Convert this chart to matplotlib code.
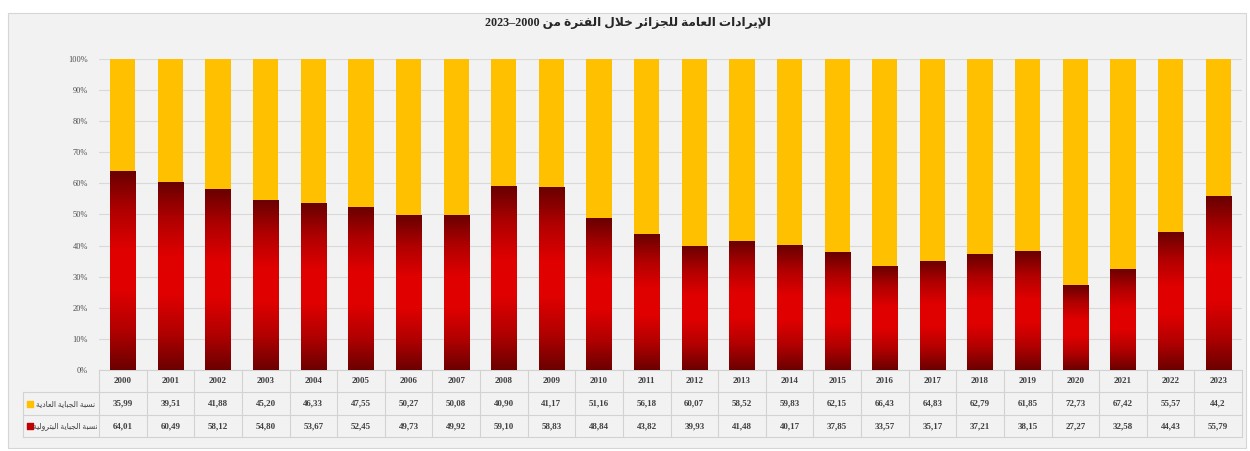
import re
import numpy as np
import matplotlib
matplotlib.use("Agg")
import matplotlib.pyplot as plt
from matplotlib.colors import LinearSegmentedColormap
from matplotlib.patches import Rectangle

# Share of oil tax vs. ordinary tax in Algeria's public revenue, 2000-2023 (%)
years = [str(y) for y in range(2000, 2024)]
oil_txt = ["64,01", "60,49", "58,12", "54,80", "53,67", "52,45", "49,73", "49,92",
           "59,10", "58,83", "48,84", "43,82", "39,93", "41,48", "40,17", "37,85",
           "33,57", "35,17", "37,21", "38,15", "27,27", "32,58", "44,43", "55,79"]
ordinary_txt = ["35,99", "39,51", "41,88", "45,20", "46,33", "47,55", "50,27", "50,08",
                "40,90", "41,17", "51,16", "56,18", "60,07", "58,52", "59,83", "62,15",
                "66,43", "64,83", "62,79", "61,85", "72,73", "67,42", "55,57", "44,2"]
oil_share = [float(s.replace(",", ".")) for s in oil_txt]
ordinary_share = [float(s.replace(",", ".")) for s in ordinary_txt]

title = "الإيرادات العامة للجزائر خلال الفترة من 2000–2023"
ordinary_label = "نسبة الجباية العادية"
oil_label = "نسبة الجباية البترولية"

# --- minimal Arabic shaping (matplotlib has no complex text layout) ---
FORMS = {
    "ا": (0xFE8D, 0xFE8E), "إ": (0xFE87, 0xFE88), "ة": (0xFE93, 0xFE94),
    "د": (0xFEA9, 0xFEAA), "ر": (0xFEAD, 0xFEAE), "ز": (0xFEAF, 0xFEB0),
    "و": (0xFEED, 0xFEEE),
    "ب": (0xFE8F, 0xFE90, 0xFE91, 0xFE92), "ت": (0xFE95, 0xFE96, 0xFE97, 0xFE98),
    "ج": (0xFE9D, 0xFE9E, 0xFE9F, 0xFEA0), "خ": (0xFEA5, 0xFEA6, 0xFEA7, 0xFEA8),
    "س": (0xFEB1, 0xFEB2, 0xFEB3, 0xFEB4), "ع": (0xFEC9, 0xFECA, 0xFECB, 0xFECC),
    "ف": (0xFED1, 0xFED2, 0xFED3, 0xFED4), "ل": (0xFEDD, 0xFEDE, 0xFEDF, 0xFEE0),
    "م": (0xFEE1, 0xFEE2, 0xFEE3, 0xFEE4), "ن": (0xFEE5, 0xFEE6, 0xFEE7, 0xFEE8),
    "ي": (0xFEF1, 0xFEF2, 0xFEF3, 0xFEF4), "ئ": (0xFE89, 0xFE8A, 0xFE8B, 0xFE8C),
}
LAM_ALEF = {"ا": (0xFEFB, 0xFEFC), "إ": (0xFEF9, 0xFEFA)}


def is_arabic(ch):
    return 0x0600 <= ord(ch) <= 0x06FF or 0xFE70 <= ord(ch) <= 0xFEFF


def rtl(text):
    out = []
    i = 0
    while i < len(text):
        c = text[i]
        prev_joins = i > 0 and len(FORMS.get(text[i - 1], ())) == 4
        if c == "ل" and i + 1 < len(text) and text[i + 1] in LAM_ALEF:
            iso, fin = LAM_ALEF[text[i + 1]]
            out.append(chr(fin if prev_joins else iso))
            i += 2
            continue
        if c in FORMS:
            forms = FORMS[c]
            next_joins = len(forms) == 4 and i + 1 < len(text) and text[i + 1] in FORMS
            if prev_joins and next_joins:
                out.append(chr(forms[3]))
            elif prev_joins:
                out.append(chr(forms[1]))
            elif next_joins:
                out.append(chr(forms[2]))
            else:
                out.append(chr(forms[0]))
        else:
            out.append(c)
        i += 1
    tokens = re.split(r"(\s+|–)", "".join(out))
    tokens = [t[::-1] if any(is_arabic(ch) for ch in t) else t for t in tokens]
    return "".join(tokens[::-1])


arabic_font = ["Liberation Serif", "DejaVu Sans"]

fig = plt.figure(figsize=(12.5, 4.51), dpi=100)
fig.patch.set_facecolor("white")
fig.patches.append(Rectangle((0.0064, 0.007), 0.99, 0.965, transform=fig.transFigure,
                             facecolor="#f2f2f2", edgecolor="#d6d6d6", lw=0.8, zorder=-5))

ax = fig.add_axes([0.0792, 0.1796, 0.9144, 0.6896])
ax.set_facecolor("none")

x = np.arange(len(years))
red_bars = ax.bar(x, oil_share, width=0.53, color="#c00000", zorder=2)
ax.bar(x, ordinary_share, bottom=oil_share, width=0.53, color="#ffc000", zorder=2)

# dark-bright-dark gradient inside the red segments
red_cmap = LinearSegmentedColormap.from_list(
    "oil", ["#6c0000", "#b20000", "#e00000", "#e00000", "#b00000", "#680000"])
grad = np.linspace(0, 1, 256).reshape(-1, 1)
for rect in red_bars:
    x0, w, h = rect.get_x(), rect.get_width(), rect.get_height()
    im = ax.imshow(grad, extent=[x0, x0 + w, 0, h], origin="lower", aspect="auto",
                   cmap=red_cmap, zorder=2.5, interpolation="bicubic")
    im.set_clip_path(rect)

ax.set_xlim(-0.5, len(years) - 0.5)
ax.set_ylim(0, 100)
ax.set_yticks(range(0, 101, 10))
ax.set_yticklabels([f"{v}%" for v in range(0, 101, 10)], fontsize=6,
                   color="#4d4d4d", family="Liberation Serif")
ax.tick_params(axis="y", length=0, pad=8)
ax.set_xticks([])
ax.yaxis.grid(True, color="#d9d9d9", lw=0.8)
ax.set_axisbelow(True)
for s in ax.spines.values():
    s.set_visible(False)

# data table underneath the bars
trans = ax.get_xaxis_transform()
rh = 0.0723
left_edge = -2.1
line_kw = dict(color="#d2d2d2", lw=0.8, transform=trans, clip_on=False)
ax.plot([-0.5, len(years) - 0.5], [0, 0], **line_kw)
for k in (1, 2, 3):
    ax.plot([left_edge, len(years) - 0.5], [-k * rh, -k * rh], **line_kw)
for i in range(len(years) + 1):
    ax.plot([i - 0.5, i - 0.5], [0, -3 * rh], **line_kw)
ax.plot([left_edge, left_edge], [-rh, -3 * rh], **line_kw)

cell_kw = dict(transform=trans, ha="center", va="center", fontsize=6.5,
               family="Liberation Serif", fontweight="bold", color="#404040")
for i in range(len(years)):
    ax.text(i, -0.5 * rh, years[i], **cell_kw)
    ax.text(i, -1.5 * rh, ordinary_txt[i], **cell_kw)
    ax.text(i, -2.5 * rh, oil_txt[i], **cell_kw)

for row, label, color in ((1.5, ordinary_label, "#ffc000"), (2.5, oil_label, "#c00000")):
    ax.scatter([-1.95], [-row * rh], marker="s", s=14, color=color,
               transform=trans, clip_on=False, zorder=3)
    ax.text(-1.2, -row * rh, rtl(label), transform=trans, ha="center", va="center",
            fontsize=5.5, family=arabic_font, color="#404040")

fig.text(0.502, 0.949, rtl(title), ha="center", va="center", fontsize=8.7,
         fontweight="bold", family=arabic_font, color="#262626")

fig.savefig("out.png", dpi=100)
